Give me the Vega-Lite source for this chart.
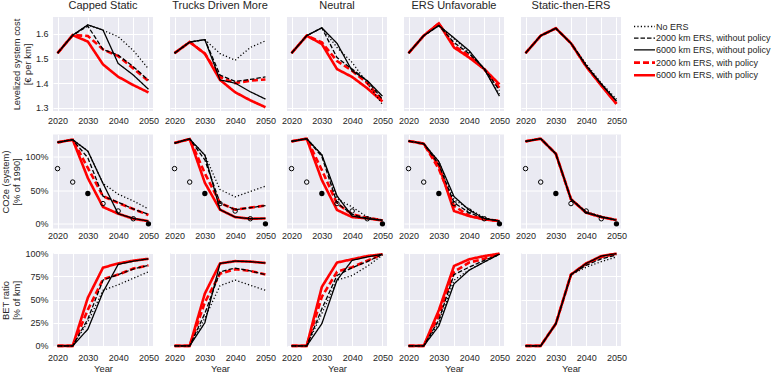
{
"$schema": "https://vega.github.io/schema/vega-lite/v6.json",
"background": "white",
"padding": {"left": 0, "top": 0, "right": 0, "bottom": 0},
"config": {
  "font": "Liberation Sans",
  "view": {"fill": "#EAEAF2", "stroke": null},
  "axis": {"gridColor": "white", "gridWidth": 1, "gridOpacity": 1, "domain": false, "ticks": false, "labelFontSize": 9, "labelColor": "#262626", "titleFontSize": 9.4, "titleColor": "#262626", "titleFontWeight": "normal", "labelPadding": 4, "titlePadding": 3, "titleLineHeight": 11},
  "axisX": {"labelPadding": 3},
  "header": {"labelFont": "Liberation Sans", "labelFontSize": 11, "labelColor": "#262626", "labelPadding": 6}
},
"datasets": {
"cost": [
{"s":"CS","k":"none","y":2020,"v":1.522},{"s":"CS","k":"none","y":2025,"v":1.595},{"s":"CS","k":"none","y":2030,"v":1.637},{"s":"CS","k":"none","y":2035,"v":1.615},{"s":"CS","k":"none","y":2040,"v":1.589},{"s":"CS","k":"none","y":2045,"v":1.533},{"s":"CS","k":"none","y":2050,"v":1.458},
{"s":"CS","k":"2k","y":2020,"v":1.522},{"s":"CS","k":"2k","y":2025,"v":1.595},{"s":"CS","k":"2k","y":2030,"v":1.632},{"s":"CS","k":"2k","y":2035,"v":1.537},{"s":"CS","k":"2k","y":2040,"v":1.514},{"s":"CS","k":"2k","y":2045,"v":1.467},{"s":"CS","k":"2k","y":2050,"v":1.412},
{"s":"CS","k":"6k","y":2020,"v":1.522},{"s":"CS","k":"6k","y":2025,"v":1.595},{"s":"CS","k":"6k","y":2030,"v":1.637},{"s":"CS","k":"6k","y":2035,"v":1.616},{"s":"CS","k":"6k","y":2040,"v":1.48},{"s":"CS","k":"6k","y":2045,"v":1.433},{"s":"CS","k":"6k","y":2050,"v":1.375},
{"s":"CS","k":"2kP","y":2020,"v":1.522},{"s":"CS","k":"2kP","y":2025,"v":1.595},{"s":"CS","k":"2kP","y":2030,"v":1.592},{"s":"CS","k":"2kP","y":2035,"v":1.537},{"s":"CS","k":"2kP","y":2040,"v":1.51},{"s":"CS","k":"2kP","y":2045,"v":1.46},{"s":"CS","k":"2kP","y":2050,"v":1.408},
{"s":"CS","k":"6kP","y":2020,"v":1.522},{"s":"CS","k":"6kP","y":2025,"v":1.595},{"s":"CS","k":"6kP","y":2030,"v":1.569},{"s":"CS","k":"6kP","y":2035,"v":1.476},{"s":"CS","k":"6kP","y":2040,"v":1.426},{"s":"CS","k":"6kP","y":2045,"v":1.392},{"s":"CS","k":"6kP","y":2050,"v":1.362},
{"s":"TD","k":"none","y":2020,"v":1.522},{"s":"TD","k":"none","y":2025,"v":1.567},{"s":"TD","k":"none","y":2030,"v":1.577},{"s":"TD","k":"none","y":2035,"v":1.52},{"s":"TD","k":"none","y":2040,"v":1.493},{"s":"TD","k":"none","y":2045,"v":1.545},{"s":"TD","k":"none","y":2050,"v":1.572},
{"s":"TD","k":"2k","y":2020,"v":1.522},{"s":"TD","k":"2k","y":2025,"v":1.567},{"s":"TD","k":"2k","y":2030,"v":1.577},{"s":"TD","k":"2k","y":2035,"v":1.433},{"s":"TD","k":"2k","y":2040,"v":1.407},{"s":"TD","k":"2k","y":2045,"v":1.415},{"s":"TD","k":"2k","y":2050,"v":1.425},
{"s":"TD","k":"6k","y":2020,"v":1.522},{"s":"TD","k":"6k","y":2025,"v":1.567},{"s":"TD","k":"6k","y":2030,"v":1.577},{"s":"TD","k":"6k","y":2035,"v":1.413},{"s":"TD","k":"6k","y":2040,"v":1.40},{"s":"TD","k":"6k","y":2045,"v":1.365},{"s":"TD","k":"6k","y":2050,"v":1.335},
{"s":"TD","k":"2kP","y":2020,"v":1.522},{"s":"TD","k":"2kP","y":2025,"v":1.567},{"s":"TD","k":"2kP","y":2030,"v":1.52},{"s":"TD","k":"2kP","y":2035,"v":1.425},{"s":"TD","k":"2kP","y":2040,"v":1.40},{"s":"TD","k":"2kP","y":2045,"v":1.41},{"s":"TD","k":"2kP","y":2050,"v":1.415},
{"s":"TD","k":"6kP","y":2020,"v":1.522},{"s":"TD","k":"6kP","y":2025,"v":1.567},{"s":"TD","k":"6kP","y":2030,"v":1.52},{"s":"TD","k":"6kP","y":2035,"v":1.413},{"s":"TD","k":"6kP","y":2040,"v":1.363},{"s":"TD","k":"6kP","y":2045,"v":1.33},{"s":"TD","k":"6kP","y":2050,"v":1.302},
{"s":"NE","k":"none","y":2020,"v":1.522},{"s":"NE","k":"none","y":2025,"v":1.593},{"s":"NE","k":"none","y":2030,"v":1.625},{"s":"NE","k":"none","y":2035,"v":1.545},{"s":"NE","k":"none","y":2040,"v":1.484},{"s":"NE","k":"none","y":2045,"v":1.40},{"s":"NE","k":"none","y":2050,"v":1.313},
{"s":"NE","k":"2k","y":2020,"v":1.522},{"s":"NE","k":"2k","y":2025,"v":1.593},{"s":"NE","k":"2k","y":2030,"v":1.625},{"s":"NE","k":"2k","y":2035,"v":1.504},{"s":"NE","k":"2k","y":2040,"v":1.457},{"s":"NE","k":"2k","y":2045,"v":1.41},{"s":"NE","k":"2k","y":2050,"v":1.334},
{"s":"NE","k":"6k","y":2020,"v":1.522},{"s":"NE","k":"6k","y":2025,"v":1.593},{"s":"NE","k":"6k","y":2030,"v":1.625},{"s":"NE","k":"6k","y":2035,"v":1.562},{"s":"NE","k":"6k","y":2040,"v":1.45},{"s":"NE","k":"6k","y":2045,"v":1.41},{"s":"NE","k":"6k","y":2050,"v":1.347},
{"s":"NE","k":"2kP","y":2020,"v":1.522},{"s":"NE","k":"2kP","y":2025,"v":1.593},{"s":"NE","k":"2kP","y":2030,"v":1.566},{"s":"NE","k":"2kP","y":2035,"v":1.49},{"s":"NE","k":"2kP","y":2040,"v":1.45},{"s":"NE","k":"2kP","y":2045,"v":1.40},{"s":"NE","k":"2kP","y":2050,"v":1.327},
{"s":"NE","k":"6kP","y":2020,"v":1.522},{"s":"NE","k":"6kP","y":2025,"v":1.593},{"s":"NE","k":"6kP","y":2030,"v":1.559},{"s":"NE","k":"6kP","y":2035,"v":1.457},{"s":"NE","k":"6kP","y":2040,"v":1.425},{"s":"NE","k":"6kP","y":2045,"v":1.379},{"s":"NE","k":"6kP","y":2050,"v":1.325},
{"s":"EU","k":"none","y":2020,"v":1.522},{"s":"EU","k":"none","y":2025,"v":1.593},{"s":"EU","k":"none","y":2030,"v":1.634},{"s":"EU","k":"none","y":2035,"v":1.58},{"s":"EU","k":"none","y":2040,"v":1.525},{"s":"EU","k":"none","y":2045,"v":1.455},{"s":"EU","k":"none","y":2050,"v":1.355},
{"s":"EU","k":"2k","y":2020,"v":1.522},{"s":"EU","k":"2k","y":2025,"v":1.593},{"s":"EU","k":"2k","y":2030,"v":1.634},{"s":"EU","k":"2k","y":2035,"v":1.565},{"s":"EU","k":"2k","y":2040,"v":1.52},{"s":"EU","k":"2k","y":2045,"v":1.46},{"s":"EU","k":"2k","y":2050,"v":1.37},
{"s":"EU","k":"6k","y":2020,"v":1.522},{"s":"EU","k":"6k","y":2025,"v":1.593},{"s":"EU","k":"6k","y":2030,"v":1.634},{"s":"EU","k":"6k","y":2035,"v":1.584},{"s":"EU","k":"6k","y":2040,"v":1.532},{"s":"EU","k":"6k","y":2045,"v":1.457},{"s":"EU","k":"6k","y":2050,"v":1.347},
{"s":"EU","k":"2kP","y":2020,"v":1.522},{"s":"EU","k":"2kP","y":2025,"v":1.593},{"s":"EU","k":"2kP","y":2030,"v":1.643},{"s":"EU","k":"2kP","y":2035,"v":1.552},{"s":"EU","k":"2kP","y":2040,"v":1.511},{"s":"EU","k":"2kP","y":2045,"v":1.457},{"s":"EU","k":"2kP","y":2050,"v":1.381},
{"s":"EU","k":"6kP","y":2020,"v":1.522},{"s":"EU","k":"6kP","y":2025,"v":1.593},{"s":"EU","k":"6kP","y":2030,"v":1.643},{"s":"EU","k":"6kP","y":2035,"v":1.545},{"s":"EU","k":"6kP","y":2040,"v":1.504},{"s":"EU","k":"6kP","y":2045,"v":1.457},{"s":"EU","k":"6kP","y":2050,"v":1.395},
{"s":"SE","k":"none","y":2020,"v":1.522},{"s":"SE","k":"none","y":2025,"v":1.593},{"s":"SE","k":"none","y":2030,"v":1.623},{"s":"SE","k":"none","y":2035,"v":1.562},{"s":"SE","k":"none","y":2040,"v":1.478},{"s":"SE","k":"none","y":2045,"v":1.40},{"s":"SE","k":"none","y":2050,"v":1.335},
{"s":"SE","k":"2k","y":2020,"v":1.522},{"s":"SE","k":"2k","y":2025,"v":1.593},{"s":"SE","k":"2k","y":2030,"v":1.623},{"s":"SE","k":"2k","y":2035,"v":1.562},{"s":"SE","k":"2k","y":2040,"v":1.472},{"s":"SE","k":"2k","y":2045,"v":1.397},{"s":"SE","k":"2k","y":2050,"v":1.328},
{"s":"SE","k":"6k","y":2020,"v":1.522},{"s":"SE","k":"6k","y":2025,"v":1.593},{"s":"SE","k":"6k","y":2030,"v":1.623},{"s":"SE","k":"6k","y":2035,"v":1.562},{"s":"SE","k":"6k","y":2040,"v":1.47},{"s":"SE","k":"6k","y":2045,"v":1.395},{"s":"SE","k":"6k","y":2050,"v":1.327},
{"s":"SE","k":"2kP","y":2020,"v":1.522},{"s":"SE","k":"2kP","y":2025,"v":1.593},{"s":"SE","k":"2kP","y":2030,"v":1.623},{"s":"SE","k":"2kP","y":2035,"v":1.562},{"s":"SE","k":"2kP","y":2040,"v":1.468},{"s":"SE","k":"2kP","y":2045,"v":1.392},{"s":"SE","k":"2kP","y":2050,"v":1.318},
{"s":"SE","k":"6kP","y":2020,"v":1.522},{"s":"SE","k":"6kP","y":2025,"v":1.593},{"s":"SE","k":"6kP","y":2030,"v":1.623},{"s":"SE","k":"6kP","y":2035,"v":1.562},{"s":"SE","k":"6kP","y":2040,"v":1.468},{"s":"SE","k":"6kP","y":2045,"v":1.39},{"s":"SE","k":"6kP","y":2050,"v":1.315},
{"s":"CS","k":"lab","t":"a"},{"s":"TD","k":"lab","t":"b"},{"s":"NE","k":"lab","t":"c"},{"s":"EU","k":"lab","t":"d"},{"s":"SE","k":"lab","t":"e"}
],
"co2": [
{"s":"CS","k":"none","y":2020,"v":121},{"s":"CS","k":"none","y":2025,"v":125},{"s":"CS","k":"none","y":2030,"v":108},{"s":"CS","k":"none","y":2035,"v":60},{"s":"CS","k":"none","y":2040,"v":44},{"s":"CS","k":"none","y":2045,"v":34},{"s":"CS","k":"none","y":2050,"v":22},
{"s":"CS","k":"2k","y":2020,"v":121},{"s":"CS","k":"2k","y":2025,"v":125},{"s":"CS","k":"2k","y":2030,"v":98},{"s":"CS","k":"2k","y":2035,"v":41},{"s":"CS","k":"2k","y":2040,"v":32},{"s":"CS","k":"2k","y":2045,"v":22},{"s":"CS","k":"2k","y":2050,"v":14},
{"s":"CS","k":"6k","y":2020,"v":121},{"s":"CS","k":"6k","y":2025,"v":125},{"s":"CS","k":"6k","y":2030,"v":108},{"s":"CS","k":"6k","y":2035,"v":60},{"s":"CS","k":"6k","y":2040,"v":15},{"s":"CS","k":"6k","y":2045,"v":8},{"s":"CS","k":"6k","y":2050,"v":4},
{"s":"CS","k":"2kP","y":2020,"v":121},{"s":"CS","k":"2kP","y":2025,"v":125},{"s":"CS","k":"2kP","y":2030,"v":83},{"s":"CS","k":"2kP","y":2035,"v":41},{"s":"CS","k":"2kP","y":2040,"v":31},{"s":"CS","k":"2kP","y":2045,"v":22},{"s":"CS","k":"2kP","y":2050,"v":13},
{"s":"CS","k":"6kP","y":2020,"v":121},{"s":"CS","k":"6kP","y":2025,"v":125},{"s":"CS","k":"6kP","y":2030,"v":68},{"s":"CS","k":"6kP","y":2035,"v":25},{"s":"CS","k":"6kP","y":2040,"v":15},{"s":"CS","k":"6kP","y":2045,"v":7.5},{"s":"CS","k":"6kP","y":2050,"v":4},
{"s":"TD","k":"none","y":2020,"v":120},{"s":"TD","k":"none","y":2025,"v":126},{"s":"TD","k":"none","y":2030,"v":102},{"s":"TD","k":"none","y":2035,"v":51},{"s":"TD","k":"none","y":2040,"v":40},{"s":"TD","k":"none","y":2045,"v":48},{"s":"TD","k":"none","y":2050,"v":56},
{"s":"TD","k":"2k","y":2020,"v":120},{"s":"TD","k":"2k","y":2025,"v":126},{"s":"TD","k":"2k","y":2030,"v":95},{"s":"TD","k":"2k","y":2035,"v":31},{"s":"TD","k":"2k","y":2040,"v":21},{"s":"TD","k":"2k","y":2045,"v":24},{"s":"TD","k":"2k","y":2050,"v":27},
{"s":"TD","k":"6k","y":2020,"v":120},{"s":"TD","k":"6k","y":2025,"v":126},{"s":"TD","k":"6k","y":2030,"v":102},{"s":"TD","k":"6k","y":2035,"v":21},{"s":"TD","k":"6k","y":2040,"v":10},{"s":"TD","k":"6k","y":2045,"v":7.5},{"s":"TD","k":"6k","y":2050,"v":8},
{"s":"TD","k":"2kP","y":2020,"v":120},{"s":"TD","k":"2kP","y":2025,"v":126},{"s":"TD","k":"2kP","y":2030,"v":75},{"s":"TD","k":"2kP","y":2035,"v":31},{"s":"TD","k":"2kP","y":2040,"v":21},{"s":"TD","k":"2kP","y":2045,"v":24},{"s":"TD","k":"2kP","y":2050,"v":27},
{"s":"TD","k":"6kP","y":2020,"v":120},{"s":"TD","k":"6kP","y":2025,"v":126},{"s":"TD","k":"6kP","y":2030,"v":61},{"s":"TD","k":"6kP","y":2035,"v":21},{"s":"TD","k":"6kP","y":2040,"v":10},{"s":"TD","k":"6kP","y":2045,"v":7.5},{"s":"TD","k":"6kP","y":2050,"v":8},
{"s":"NE","k":"none","y":2020,"v":122.5},{"s":"NE","k":"none","y":2025,"v":126.5},{"s":"NE","k":"none","y":2030,"v":102.5},{"s":"NE","k":"none","y":2035,"v":37},{"s":"NE","k":"none","y":2040,"v":25},{"s":"NE","k":"none","y":2045,"v":10},{"s":"NE","k":"none","y":2050,"v":5},
{"s":"NE","k":"2k","y":2020,"v":122.5},{"s":"NE","k":"2k","y":2025,"v":126.5},{"s":"NE","k":"2k","y":2030,"v":100},{"s":"NE","k":"2k","y":2035,"v":31},{"s":"NE","k":"2k","y":2040,"v":14},{"s":"NE","k":"2k","y":2045,"v":8},{"s":"NE","k":"2k","y":2050,"v":5},
{"s":"NE","k":"6k","y":2020,"v":122.5},{"s":"NE","k":"6k","y":2025,"v":126.5},{"s":"NE","k":"6k","y":2030,"v":102.5},{"s":"NE","k":"6k","y":2035,"v":41.5},{"s":"NE","k":"6k","y":2040,"v":11.5},{"s":"NE","k":"6k","y":2045,"v":7.5},{"s":"NE","k":"6k","y":2050,"v":5.5},
{"s":"NE","k":"2kP","y":2020,"v":122.5},{"s":"NE","k":"2kP","y":2025,"v":126.5},{"s":"NE","k":"2kP","y":2030,"v":80},{"s":"NE","k":"2kP","y":2035,"v":30},{"s":"NE","k":"2kP","y":2040,"v":14},{"s":"NE","k":"2kP","y":2045,"v":9},{"s":"NE","k":"2kP","y":2050,"v":5},
{"s":"NE","k":"6kP","y":2020,"v":122.5},{"s":"NE","k":"6kP","y":2025,"v":126.5},{"s":"NE","k":"6kP","y":2030,"v":65},{"s":"NE","k":"6kP","y":2035,"v":20.5},{"s":"NE","k":"6kP","y":2040,"v":10},{"s":"NE","k":"6kP","y":2045,"v":8},{"s":"NE","k":"6kP","y":2050,"v":5},
{"s":"EU","k":"none","y":2020,"v":123},{"s":"EU","k":"none","y":2025,"v":119},{"s":"EU","k":"none","y":2030,"v":92.5},{"s":"EU","k":"none","y":2035,"v":36},{"s":"EU","k":"none","y":2040,"v":22},{"s":"EU","k":"none","y":2045,"v":9},{"s":"EU","k":"none","y":2050,"v":4},
{"s":"EU","k":"2k","y":2020,"v":123},{"s":"EU","k":"2k","y":2025,"v":119},{"s":"EU","k":"2k","y":2030,"v":88},{"s":"EU","k":"2k","y":2035,"v":31.5},{"s":"EU","k":"2k","y":2040,"v":16.5},{"s":"EU","k":"2k","y":2045,"v":8},{"s":"EU","k":"2k","y":2050,"v":4},
{"s":"EU","k":"6k","y":2020,"v":123},{"s":"EU","k":"6k","y":2025,"v":119},{"s":"EU","k":"6k","y":2030,"v":92.5},{"s":"EU","k":"6k","y":2035,"v":40.5},{"s":"EU","k":"6k","y":2040,"v":20.5},{"s":"EU","k":"6k","y":2045,"v":8},{"s":"EU","k":"6k","y":2050,"v":4},
{"s":"EU","k":"2kP","y":2020,"v":123},{"s":"EU","k":"2kP","y":2025,"v":119},{"s":"EU","k":"2kP","y":2030,"v":81.5},{"s":"EU","k":"2kP","y":2035,"v":26.5},{"s":"EU","k":"2kP","y":2040,"v":12},{"s":"EU","k":"2kP","y":2045,"v":7},{"s":"EU","k":"2kP","y":2050,"v":4},
{"s":"EU","k":"6kP","y":2020,"v":123},{"s":"EU","k":"6kP","y":2025,"v":119},{"s":"EU","k":"6kP","y":2030,"v":86.5},{"s":"EU","k":"6kP","y":2035,"v":19},{"s":"EU","k":"6kP","y":2040,"v":11.5},{"s":"EU","k":"6kP","y":2045,"v":6.5},{"s":"EU","k":"6kP","y":2050,"v":4},
{"s":"SE","k":"none","y":2020,"v":122.5},{"s":"SE","k":"none","y":2025,"v":126.5},{"s":"SE","k":"none","y":2030,"v":104},{"s":"SE","k":"none","y":2035,"v":36.5},{"s":"SE","k":"none","y":2040,"v":18},{"s":"SE","k":"none","y":2045,"v":11},{"s":"SE","k":"none","y":2050,"v":5.5},
{"s":"SE","k":"2k","y":2020,"v":122.5},{"s":"SE","k":"2k","y":2025,"v":126.5},{"s":"SE","k":"2k","y":2030,"v":104},{"s":"SE","k":"2k","y":2035,"v":36.5},{"s":"SE","k":"2k","y":2040,"v":17},{"s":"SE","k":"2k","y":2045,"v":10.5},{"s":"SE","k":"2k","y":2050,"v":5.5},
{"s":"SE","k":"6k","y":2020,"v":122.5},{"s":"SE","k":"6k","y":2025,"v":126.5},{"s":"SE","k":"6k","y":2030,"v":104},{"s":"SE","k":"6k","y":2035,"v":36.5},{"s":"SE","k":"6k","y":2040,"v":16.5},{"s":"SE","k":"6k","y":2045,"v":10},{"s":"SE","k":"6k","y":2050,"v":5.5},
{"s":"SE","k":"2kP","y":2020,"v":122.5},{"s":"SE","k":"2kP","y":2025,"v":126.5},{"s":"SE","k":"2kP","y":2030,"v":104},{"s":"SE","k":"2kP","y":2035,"v":36.5},{"s":"SE","k":"2kP","y":2040,"v":16.5},{"s":"SE","k":"2kP","y":2045,"v":10},{"s":"SE","k":"2kP","y":2050,"v":5.5},
{"s":"SE","k":"6kP","y":2020,"v":122.5},{"s":"SE","k":"6kP","y":2025,"v":126.5},{"s":"SE","k":"6kP","y":2030,"v":104},{"s":"SE","k":"6kP","y":2035,"v":36.5},{"s":"SE","k":"6kP","y":2040,"v":16.5},{"s":"SE","k":"6kP","y":2045,"v":10},{"s":"SE","k":"6kP","y":2050,"v":5.5},
{"s":"CS","k":"tgt","y":2020,"v":82,"f":false},{"s":"CS","k":"tgt","y":2025,"v":62,"f":false},{"s":"CS","k":"tgt","y":2030,"v":45,"f":true},{"s":"CS","k":"tgt","y":2035,"v":30,"f":false},{"s":"CS","k":"tgt","y":2040,"v":19,"f":false},{"s":"CS","k":"tgt","y":2045,"v":7.5,"f":false},{"s":"CS","k":"tgt","y":2050,"v":0,"f":true},
{"s":"TD","k":"tgt","y":2020,"v":82,"f":false},{"s":"TD","k":"tgt","y":2025,"v":62,"f":false},{"s":"TD","k":"tgt","y":2030,"v":45,"f":true},{"s":"TD","k":"tgt","y":2035,"v":30,"f":false},{"s":"TD","k":"tgt","y":2040,"v":19,"f":false},{"s":"TD","k":"tgt","y":2045,"v":7.5,"f":false},{"s":"TD","k":"tgt","y":2050,"v":0,"f":true},
{"s":"NE","k":"tgt","y":2020,"v":82,"f":false},{"s":"NE","k":"tgt","y":2025,"v":62,"f":false},{"s":"NE","k":"tgt","y":2030,"v":45,"f":true},{"s":"NE","k":"tgt","y":2035,"v":30,"f":false},{"s":"NE","k":"tgt","y":2040,"v":19,"f":false},{"s":"NE","k":"tgt","y":2045,"v":7.5,"f":false},{"s":"NE","k":"tgt","y":2050,"v":0,"f":true},
{"s":"EU","k":"tgt","y":2020,"v":82,"f":false},{"s":"EU","k":"tgt","y":2025,"v":62,"f":false},{"s":"EU","k":"tgt","y":2030,"v":45,"f":true},{"s":"EU","k":"tgt","y":2035,"v":30,"f":false},{"s":"EU","k":"tgt","y":2040,"v":19,"f":false},{"s":"EU","k":"tgt","y":2045,"v":7.5,"f":false},{"s":"EU","k":"tgt","y":2050,"v":0,"f":true},
{"s":"SE","k":"tgt","y":2020,"v":82,"f":false},{"s":"SE","k":"tgt","y":2025,"v":62,"f":false},{"s":"SE","k":"tgt","y":2030,"v":45,"f":true},{"s":"SE","k":"tgt","y":2035,"v":30,"f":false},{"s":"SE","k":"tgt","y":2040,"v":19,"f":false},{"s":"SE","k":"tgt","y":2045,"v":7.5,"f":false},{"s":"SE","k":"tgt","y":2050,"v":0,"f":true},
{"s":"CS","k":"lab","t":"f"},{"s":"TD","k":"lab","t":"g"},{"s":"NE","k":"lab","t":"h"},{"s":"EU","k":"lab","t":"i"},{"s":"SE","k":"lab","t":"j"}
],
"bet": [
{"s":"CS","k":"none","y":2020,"v":0},{"s":"CS","k":"none","y":2025,"v":0},{"s":"CS","k":"none","y":2030,"v":26},{"s":"CS","k":"none","y":2035,"v":60},{"s":"CS","k":"none","y":2040,"v":66},{"s":"CS","k":"none","y":2045,"v":73},{"s":"CS","k":"none","y":2050,"v":80},
{"s":"CS","k":"2k","y":2020,"v":0},{"s":"CS","k":"2k","y":2025,"v":0},{"s":"CS","k":"2k","y":2030,"v":29},{"s":"CS","k":"2k","y":2035,"v":71},{"s":"CS","k":"2k","y":2040,"v":77},{"s":"CS","k":"2k","y":2045,"v":83},{"s":"CS","k":"2k","y":2050,"v":87},
{"s":"CS","k":"6k","y":2020,"v":0},{"s":"CS","k":"6k","y":2025,"v":0},{"s":"CS","k":"6k","y":2030,"v":18},{"s":"CS","k":"6k","y":2035,"v":58},{"s":"CS","k":"6k","y":2040,"v":88},{"s":"CS","k":"6k","y":2045,"v":91.5},{"s":"CS","k":"6k","y":2050,"v":94},
{"s":"CS","k":"2kP","y":2020,"v":0},{"s":"CS","k":"2kP","y":2025,"v":0},{"s":"CS","k":"2kP","y":2030,"v":39},{"s":"CS","k":"2kP","y":2035,"v":72},{"s":"CS","k":"2kP","y":2040,"v":77},{"s":"CS","k":"2kP","y":2045,"v":83.5},{"s":"CS","k":"2kP","y":2050,"v":87},
{"s":"CS","k":"6kP","y":2020,"v":0},{"s":"CS","k":"6kP","y":2025,"v":0},{"s":"CS","k":"6kP","y":2030,"v":52},{"s":"CS","k":"6kP","y":2035,"v":84.5},{"s":"CS","k":"6kP","y":2040,"v":89},{"s":"CS","k":"6kP","y":2045,"v":92},{"s":"CS","k":"6kP","y":2050,"v":94},
{"s":"TD","k":"none","y":2020,"v":0},{"s":"TD","k":"none","y":2025,"v":0},{"s":"TD","k":"none","y":2030,"v":30},{"s":"TD","k":"none","y":2035,"v":65},{"s":"TD","k":"none","y":2040,"v":71},{"s":"TD","k":"none","y":2045,"v":65.5},{"s":"TD","k":"none","y":2050,"v":60},
{"s":"TD","k":"2k","y":2020,"v":0},{"s":"TD","k":"2k","y":2025,"v":0},{"s":"TD","k":"2k","y":2030,"v":35},{"s":"TD","k":"2k","y":2035,"v":80},{"s":"TD","k":"2k","y":2040,"v":84},{"s":"TD","k":"2k","y":2045,"v":81},{"s":"TD","k":"2k","y":2050,"v":77},
{"s":"TD","k":"6k","y":2020,"v":0},{"s":"TD","k":"6k","y":2025,"v":0},{"s":"TD","k":"6k","y":2030,"v":25},{"s":"TD","k":"6k","y":2035,"v":89},{"s":"TD","k":"6k","y":2040,"v":91.5},{"s":"TD","k":"6k","y":2045,"v":91},{"s":"TD","k":"6k","y":2050,"v":89.5},
{"s":"TD","k":"2kP","y":2020,"v":0},{"s":"TD","k":"2kP","y":2025,"v":0},{"s":"TD","k":"2kP","y":2030,"v":47},{"s":"TD","k":"2kP","y":2035,"v":78},{"s":"TD","k":"2kP","y":2040,"v":82.7},{"s":"TD","k":"2kP","y":2045,"v":81},{"s":"TD","k":"2kP","y":2050,"v":77},
{"s":"TD","k":"6kP","y":2020,"v":0},{"s":"TD","k":"6kP","y":2025,"v":0},{"s":"TD","k":"6kP","y":2030,"v":56.5},{"s":"TD","k":"6kP","y":2035,"v":89},{"s":"TD","k":"6kP","y":2040,"v":91.5},{"s":"TD","k":"6kP","y":2045,"v":91},{"s":"TD","k":"6kP","y":2050,"v":89.5},
{"s":"NE","k":"none","y":2020,"v":0},{"s":"NE","k":"none","y":2025,"v":0},{"s":"NE","k":"none","y":2030,"v":35},{"s":"NE","k":"none","y":2035,"v":71},{"s":"NE","k":"none","y":2040,"v":76},{"s":"NE","k":"none","y":2045,"v":86},{"s":"NE","k":"none","y":2050,"v":98},
{"s":"NE","k":"2k","y":2020,"v":0},{"s":"NE","k":"2k","y":2025,"v":0},{"s":"NE","k":"2k","y":2030,"v":40},{"s":"NE","k":"2k","y":2035,"v":76},{"s":"NE","k":"2k","y":2040,"v":84.5},{"s":"NE","k":"2k","y":2045,"v":91},{"s":"NE","k":"2k","y":2050,"v":99},
{"s":"NE","k":"6k","y":2020,"v":0},{"s":"NE","k":"6k","y":2025,"v":0},{"s":"NE","k":"6k","y":2030,"v":24},{"s":"NE","k":"6k","y":2035,"v":71},{"s":"NE","k":"6k","y":2040,"v":92.4},{"s":"NE","k":"6k","y":2045,"v":96},{"s":"NE","k":"6k","y":2050,"v":99},
{"s":"NE","k":"2kP","y":2020,"v":0},{"s":"NE","k":"2kP","y":2025,"v":0},{"s":"NE","k":"2kP","y":2030,"v":53},{"s":"NE","k":"2kP","y":2035,"v":80},{"s":"NE","k":"2kP","y":2040,"v":85},{"s":"NE","k":"2kP","y":2045,"v":92},{"s":"NE","k":"2kP","y":2050,"v":99},
{"s":"NE","k":"6kP","y":2020,"v":0},{"s":"NE","k":"6kP","y":2025,"v":0},{"s":"NE","k":"6kP","y":2030,"v":63.7},{"s":"NE","k":"6kP","y":2035,"v":90},{"s":"NE","k":"6kP","y":2040,"v":93.5},{"s":"NE","k":"6kP","y":2045,"v":97},{"s":"NE","k":"6kP","y":2050,"v":99},
{"s":"EU","k":"none","y":2020,"v":0},{"s":"EU","k":"none","y":2025,"v":0},{"s":"EU","k":"none","y":2030,"v":25},{"s":"EU","k":"none","y":2035,"v":71},{"s":"EU","k":"none","y":2040,"v":82},{"s":"EU","k":"none","y":2045,"v":90.6},{"s":"EU","k":"none","y":2050,"v":99},
{"s":"EU","k":"2k","y":2020,"v":0},{"s":"EU","k":"2k","y":2025,"v":0},{"s":"EU","k":"2k","y":2030,"v":28},{"s":"EU","k":"2k","y":2035,"v":77},{"s":"EU","k":"2k","y":2040,"v":85},{"s":"EU","k":"2k","y":2045,"v":92.4},{"s":"EU","k":"2k","y":2050,"v":99},
{"s":"EU","k":"6k","y":2020,"v":0},{"s":"EU","k":"6k","y":2025,"v":0},{"s":"EU","k":"6k","y":2030,"v":21.6},{"s":"EU","k":"6k","y":2035,"v":67},{"s":"EU","k":"6k","y":2040,"v":81.7},{"s":"EU","k":"6k","y":2045,"v":90.6},{"s":"EU","k":"6k","y":2050,"v":99},
{"s":"EU","k":"2kP","y":2020,"v":0},{"s":"EU","k":"2kP","y":2025,"v":0},{"s":"EU","k":"2kP","y":2030,"v":33},{"s":"EU","k":"2kP","y":2035,"v":80},{"s":"EU","k":"2kP","y":2040,"v":90},{"s":"EU","k":"2kP","y":2045,"v":94},{"s":"EU","k":"2kP","y":2050,"v":99.5},
{"s":"EU","k":"6kP","y":2020,"v":0},{"s":"EU","k":"6kP","y":2025,"v":0},{"s":"EU","k":"6kP","y":2030,"v":38.5},{"s":"EU","k":"6kP","y":2035,"v":86.3},{"s":"EU","k":"6kP","y":2040,"v":93.5},{"s":"EU","k":"6kP","y":2045,"v":97},{"s":"EU","k":"6kP","y":2050,"v":99.6},
{"s":"SE","k":"none","y":2020,"v":0},{"s":"SE","k":"none","y":2025,"v":0},{"s":"SE","k":"none","y":2030,"v":24},{"s":"SE","k":"none","y":2035,"v":77},{"s":"SE","k":"none","y":2040,"v":85},{"s":"SE","k":"none","y":2045,"v":91},{"s":"SE","k":"none","y":2050,"v":96},
{"s":"SE","k":"2k","y":2020,"v":0},{"s":"SE","k":"2k","y":2025,"v":0},{"s":"SE","k":"2k","y":2030,"v":24},{"s":"SE","k":"2k","y":2035,"v":77},{"s":"SE","k":"2k","y":2040,"v":87},{"s":"SE","k":"2k","y":2045,"v":94},{"s":"SE","k":"2k","y":2050,"v":98},
{"s":"SE","k":"6k","y":2020,"v":0},{"s":"SE","k":"6k","y":2025,"v":0},{"s":"SE","k":"6k","y":2030,"v":24},{"s":"SE","k":"6k","y":2035,"v":77},{"s":"SE","k":"6k","y":2040,"v":89},{"s":"SE","k":"6k","y":2045,"v":97},{"s":"SE","k":"6k","y":2050,"v":99.6},
{"s":"SE","k":"2kP","y":2020,"v":0},{"s":"SE","k":"2kP","y":2025,"v":0},{"s":"SE","k":"2kP","y":2030,"v":24},{"s":"SE","k":"2kP","y":2035,"v":77},{"s":"SE","k":"2kP","y":2040,"v":89},{"s":"SE","k":"2kP","y":2045,"v":96},{"s":"SE","k":"2kP","y":2050,"v":99.6},
{"s":"SE","k":"6kP","y":2020,"v":0},{"s":"SE","k":"6kP","y":2025,"v":0},{"s":"SE","k":"6kP","y":2030,"v":24},{"s":"SE","k":"6kP","y":2035,"v":77},{"s":"SE","k":"6kP","y":2040,"v":89},{"s":"SE","k":"6kP","y":2045,"v":97},{"s":"SE","k":"6kP","y":2050,"v":99.6},
{"s":"CS","k":"lab","t":"k"},{"s":"TD","k":"lab","t":"l"},{"s":"NE","k":"lab","t":"m"},{"s":"EU","k":"lab","t":"n"},{"s":"SE","k":"lab","t":"o"}
]
},
"spacing": 7.5,
"vconcat": [
{
  "data": {"name": "cost"},
  "facet": {"column": {"field": "s", "type": "nominal", "sort": ["CS", "TD", "NE", "EU", "SE"], "title": null,
    "header": {"labelExpr": "datum.value == 'CS' ? 'Capped Static' : datum.value == 'TD' ? 'Trucks Driven More' : datum.value == 'NE' ? 'Neutral' : datum.value == 'EU' ? 'ERS Unfavorable' : 'Static-then-ERS'"}}},
  "spacing": {"column": 15},
  "spec": {
    "width": 100, "height": 94,
    "encoding": {
      "x": {"field": "y", "type": "quantitative", "scale": {"domain": [2018.5, 2051.5], "nice": false, "zero": false},
        "axis": {"values": [2020, 2025, 2030, 2035, 2040, 2045, 2050], "format": "d", "labelExpr": "datum.value % 10 == 0 ? datum.label : ''", "labelOverlap": false, "labelFlush": false, "title": null}},
      "y": {"field": "v", "type": "quantitative", "scale": {"domain": [1.2866, 1.669], "nice": false, "zero": false},
        "axis": {"values": [1.3, 1.4, 1.5, 1.6], "format": ".1f", "title": ["Levelized system cost", "[€ per km]"]}}
    },
    "layer": [
      {"transform": [{"filter": {"field": "k", "oneOf": ["2kP", "6kP"]}}],
       "mark": {"type": "line", "strokeWidth": 2.6},
       "encoding": {
         "color": {"field": "k", "type": "nominal", "scale": {"domain": ["none", "2k", "6k", "2kP", "6kP"], "range": ["#000000", "#000000", "#000000", "#ff0000", "#ff0000"]},
           "legend": {"title": null, "orient": "none", "legendX": 587, "legendY": 5, "symbolType": "stroke", "symbolSize": 441, "symbolStrokeWidth": 1.3, "labelFontSize": 9, "labelColor": "#262626", "labelOffset": 7, "rowPadding": 1.7, "labelLimit": 200,
             "labelExpr": "datum.value == 'none' ? 'No ERS' : datum.value == '2k' ? '2000 km ERS, without policy' : datum.value == '6k' ? '6000 km ERS, without policy' : datum.value == '2kP' ? '2000 km ERS, with policy' : '6000 km ERS, with policy'",
             "encode": {"symbols": {"update": {"strokeWidth": {"signal": "datum.value == '2kP' || datum.value == '6kP' ? 2.6 : 1.3"}}}}}},
         "strokeDash": {"field": "k", "type": "nominal", "scale": {"domain": ["none", "2k", "6k", "2kP", "6kP"], "range": [[1.2, 2.2], [4.5, 2], [1, 0], [6, 3], [1, 0]]},
           "legend": {"title": null, "orient": "none", "legendX": 587, "legendY": 5, "symbolType": "stroke", "symbolSize": 441, "symbolStrokeWidth": 1.3, "labelFontSize": 9, "labelColor": "#262626", "labelOffset": 7, "rowPadding": 1.7, "labelLimit": 200,
             "labelExpr": "datum.value == 'none' ? 'No ERS' : datum.value == '2k' ? '2000 km ERS, without policy' : datum.value == '6k' ? '6000 km ERS, without policy' : datum.value == '2kP' ? '2000 km ERS, with policy' : '6000 km ERS, with policy'",
             "encode": {"symbols": {"update": {"strokeWidth": {"signal": "datum.value == '2kP' || datum.value == '6kP' ? 2.6 : 1.3"}}}}}}
       }},
      {"transform": [{"filter": {"field": "k", "oneOf": ["none", "2k", "6k"]}}],
       "mark": {"type": "line", "strokeWidth": 1.3},
       "encoding": {
         "color": {"field": "k", "type": "nominal", "legend": null},
         "strokeDash": {"field": "k", "type": "nominal", "legend": null}
       }},
      {"transform": [{"filter": "datum.k == 'lab'"}],
       "mark": {"type": "text", "align": "right", "baseline": "middle", "fontWeight": "bold", "fontSize": 11, "color": "#262626"},
       "encoding": {"x": {"datum": 2050.3}, "y": {"datum": 1.636}, "text": {"field": "t"}}}
    ]
  }
},
{
  "data": {"name": "co2"},
  "facet": {"column": {"field": "s", "type": "nominal", "sort": ["CS", "TD", "NE", "EU", "SE"], "title": null, "header": {"labels": false}}},
  "spacing": {"column": 15},
  "spec": {
    "width": 100, "height": 94,
    "encoding": {
      "x": {"field": "y", "type": "quantitative", "scale": {"domain": [2018.5, 2051.5], "nice": false, "zero": false},
        "axis": {"values": [2020, 2025, 2030, 2035, 2040, 2045, 2050], "format": "d", "labelExpr": "datum.value % 10 == 0 ? datum.label : ''", "labelOverlap": false, "labelFlush": false, "title": null}},
      "y": {"field": "v", "type": "quantitative", "scale": {"domain": [-7, 132.7], "nice": false, "zero": false},
        "axis": {"values": [0, 50, 100], "labelExpr": "datum.value + '%'", "title": ["CO2e (system)", "[% of 1990]"]}}
    },
    "layer": [
      {"transform": [{"filter": {"field": "k", "oneOf": ["2kP", "6kP"]}}],
       "mark": {"type": "line", "strokeWidth": 2.6},
       "encoding": {"color": {"field": "k", "type": "nominal", "legend": null}, "strokeDash": {"field": "k", "type": "nominal", "legend": null}}},
      {"transform": [{"filter": {"field": "k", "oneOf": ["none", "2k", "6k"]}}],
       "mark": {"type": "line", "strokeWidth": 1.3},
       "encoding": {"color": {"field": "k", "type": "nominal", "legend": null}, "strokeDash": {"field": "k", "type": "nominal", "legend": null}}},
      {"transform": [{"filter": "datum.k == 'tgt' && !datum.f"}],
       "mark": {"type": "point", "filled": false, "stroke": "#000000", "strokeWidth": 1, "size": 20, "opacity": 1}},
      {"transform": [{"filter": "datum.k == 'tgt' && datum.f"}],
       "mark": {"type": "point", "filled": true, "color": "#000000", "size": 28, "opacity": 1}},
      {"transform": [{"filter": "datum.k == 'lab'"}],
       "mark": {"type": "text", "align": "right", "baseline": "middle", "fontWeight": "bold", "fontSize": 11, "color": "#262626"},
       "encoding": {"x": {"datum": 2050.3}, "y": {"datum": 121.7}, "text": {"field": "t"}}}
    ]
  }
},
{
  "data": {"name": "bet"},
  "facet": {"column": {"field": "s", "type": "nominal", "sort": ["CS", "TD", "NE", "EU", "SE"], "title": null, "header": {"labels": false}}},
  "spacing": {"column": 15},
  "spec": {
    "width": 100, "height": 94,
    "encoding": {
      "x": {"field": "y", "type": "quantitative", "scale": {"domain": [2018.5, 2051.5], "nice": false, "zero": false},
        "axis": {"values": [2020, 2025, 2030, 2035, 2040, 2045, 2050], "format": "d", "labelExpr": "datum.value % 10 == 0 ? datum.label : ''", "labelOverlap": false, "labelFlush": false, "labelPadding": 1.5, "title": "Year", "titlePadding": 2}},
      "y": {"field": "v", "type": "quantitative", "scale": {"domain": [-1.2, 100.3], "nice": false, "zero": false},
        "axis": {"values": [0, 25, 50, 75, 100], "labelExpr": "datum.value + '%'", "title": ["BET ratio", "[% of km]"]}}
    },
    "layer": [
      {"transform": [{"filter": {"field": "k", "oneOf": ["2kP", "6kP"]}}],
       "mark": {"type": "line", "strokeWidth": 2.6},
       "encoding": {"color": {"field": "k", "type": "nominal", "legend": null}, "strokeDash": {"field": "k", "type": "nominal", "legend": null}}},
      {"transform": [{"filter": {"field": "k", "oneOf": ["none", "2k", "6k"]}}],
       "mark": {"type": "line", "strokeWidth": 1.3},
       "encoding": {"color": {"field": "k", "type": "nominal", "legend": null}, "strokeDash": {"field": "k", "type": "nominal", "legend": null}}},
      {"transform": [{"filter": "datum.k == 'lab'"}],
       "mark": {"type": "text", "align": "left", "baseline": "middle", "fontWeight": "bold", "fontSize": 11, "color": "#262626"},
       "encoding": {"x": {"datum": 2019.8}, "y": {"datum": 93}, "text": {"field": "t"}}}
    ]
  }
}
]
}
